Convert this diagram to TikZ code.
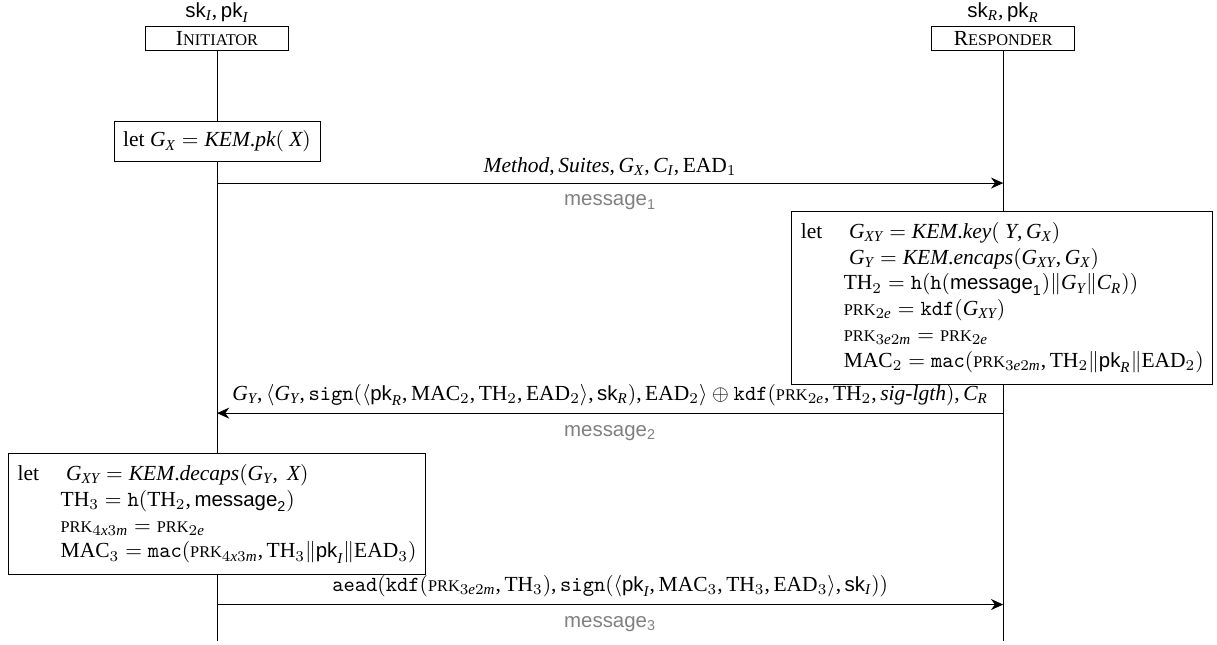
\documentclass[tikz,border=0pt]{standalone}
\usepackage{amsmath}
\usepackage{fontspec}
\setmainfont{Liberation Serif}
\setsansfont{Liberation Sans}[Scale=0.95]
\DeclareSymbolFont{letters}{TU}{\rmdefault}{m}{it}
\mathcode`\,="602C
\mathcode`\.="002E
\usepackage{tikz}
\usetikzlibrary{arrows.meta}
\usetikzlibrary{positioning}
\tikzstyle{party}=[draw=black,fill=white,minimum width=2.34cm,minimum height=0.38cm,inner sep=0.5mm]
\tikzstyle{keys}=[inner sep=0mm]
\tikzstyle{calc}=[draw=black,fill=white,align=left,inner sep=1.5mm]
\tikzstyle{msg}=[-{Stealth[length=2mm,width=1.8mm]}]
\tikzstyle{msgname}=[text=gray,font=\sffamily,below=0.7mm]
\newcommand{\smc}[1]{{\fontsize{7.6pt}{9pt}\selectfont #1}}
\newcommand{\prk}{\text{\smc{PRK}}}
\newcommand{\msgnm}[1]{\textsf{message}$_{\mathsf{#1}}$}

\begin{document}
\begin{tikzpicture}
      \useasboundingbox (0,0) rectangle (19.89,-10.54);
      % the two parties
      \node[party] at (3.547,-0.629) (init) {I\smc{NITIATOR}};
      \node[party] at (16.396,-0.629) (resp) {R\smc{ESPONDER}};
      \node[keys, above=0.6mm of init] (initkeys) {$\mathsf{sk}_I, \mathsf{pk}_I$};
      \node[keys, above=0.6mm of resp] (respkeys) {$\mathsf{sk}_R, \mathsf{pk}_R$};
      \coordinate (initend) at (3.547,-10.47);
      \coordinate (respend) at (16.396,-10.47);
      \draw (init) -- (initend);
      \draw (resp) -- (respend);
      % messages
      \coordinate (i1) at (3.547,-2.992);
      \coordinate (r1) at (16.396,-2.992);
      \coordinate (i2) at (3.547,-6.752);
      \coordinate (r2) at (16.396,-6.752);
      \coordinate (i3) at (3.547,-9.88);
      \coordinate (r3) at (16.396,-9.88);
      \draw[msg] (i1) -- (r1)
        node[midway,above] {$\mathit{Method}, \mathit{Suites}, G_X, C_I, \mathrm{EAD}_1$}
        node[midway,msgname] {\msgnm{1}};
      \draw[msg] (r2) -- (i2)
        node[midway,above] {$G_Y, \langle G_Y, \mathtt{sign}(\langle \mathsf{pk}_R, \mathrm{MAC}_2, \mathrm{TH}_2, \mathrm{EAD}_2\rangle, \mathsf{sk}_R), \mathrm{EAD}_2\rangle \oplus \mathtt{kdf}(\prk_{2e}, \mathrm{TH}_2, \mathit{sig\text{-}lgth}), C_R$}
        node[midway,msgname] {\msgnm{2}};
      \draw[msg] (i3) -- (r3)
        node[midway,above] {$\mathtt{aead}(\mathtt{kdf}(\prk_{3e2m}, \mathrm{TH}_3), \mathtt{sign}(\langle \mathsf{pk}_I, \mathrm{MAC}_3, \mathrm{TH}_3, \mathrm{EAD}_3\rangle, \mathsf{sk}_I))$}
        node[midway,msgname] {\msgnm{3}};
      % local computations
      \node[calc] at (3.547,-2.313) (genX) {let $G_X = \mathit{KEM.pk}(\ X)$};
      \node[calc] at (16.38,-4.863) (respcalc) {\begin{tabular}{@{}l@{\quad}l@{}}
        let & $\ G_{XY} = \mathit{KEM.key}(\ Y, G_X)$\\
            & $\ G_Y = \mathit{KEM.encaps}(G_{XY}, G_X)$\\
            & $\mathrm{TH}_2 = \mathtt{h}(\mathtt{h}(\mathsf{message}_{\mathsf{1}}) \| G_Y \| C_R))$\\
            & $\prk_{2e} = \mathtt{kdf}(G_{XY})$\\
            & $\prk_{3e2m} = \prk_{2e}$\\
            & $\mathrm{MAC}_2 = \mathtt{mac}(\prk_{3e2m}, \mathrm{TH}_2 \| \mathsf{pk}_R \| \mathrm{EAD}_2)$
        \end{tabular}};
      \node[calc] at (3.547,-8.402) (initcalc) {\begin{tabular}{@{}l@{\quad}l@{}}
        let & $\ G_{XY} = \mathit{KEM.decaps}(G_Y,\ X)$\\
            & $\mathrm{TH}_3 = \mathtt{h}(\mathrm{TH}_2, \mathsf{message}_{\mathsf{2}})$\\
            & $\prk_{4x3m} = \prk_{2e}$\\
            & $\mathrm{MAC}_3 = \mathtt{mac}(\prk_{4x3m}, \mathrm{TH}_3 \| \mathsf{pk}_I \| \mathrm{EAD}_3)$
        \end{tabular}};
    \end{tikzpicture}
\end{document}
